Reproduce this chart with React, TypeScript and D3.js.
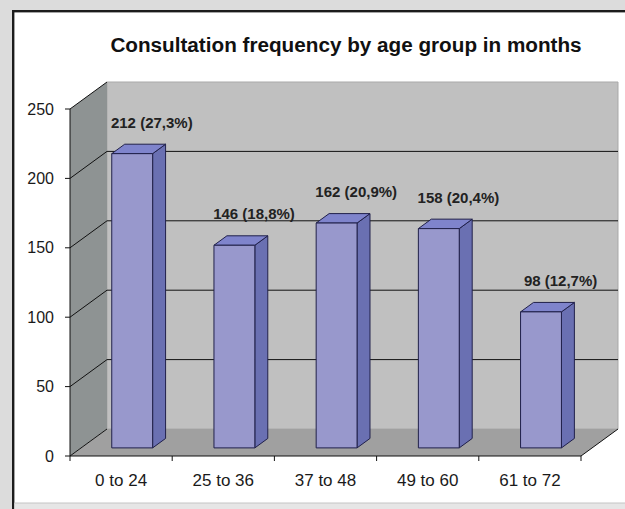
import React from "react";
import * as d3 from "d3";

const categories = ["0 to 24", "25 to 36", "37 to 48", "49 to 60", "61 to 72"];
const counts = [212, 146, 162, 158, 98];
const percents = ["27,3%", "18,8%", "20,9%", "20,4%", "12,7%"];
const yTicks = [0, 50, 100, 150, 200, 250];
const title = "Consultation frequency by age group in months";

const W = 625;
const H = 509;
const DX = 37;
const DY = -27;
const FONT = "'Liberation Sans', Arial, Helvetica, sans-serif";

export default function App() {
  const x = d3.scaleBand<string>().domain(categories).range([70, 581]).paddingInner(0).paddingOuter(0);
  const y = d3.scaleLinear().domain([0, 250]).range([456, 109]);
  const bw = x.bandwidth();
  const d0 = 0.3;
  const d1 = 0.65;
  const pt = (px: number, v: number, d: number) => [px + d * DX, y(v) + d * DY];
  const poly = (pts: number[][]) => pts.map((p) => p.join(",")).join(" ");

  const x0 = x.range()[0];
  const x1 = x.range()[1];
  const vMax = y.domain()[1];

  const backWall = poly([pt(x0, 0, 1), pt(x1, 0, 1), pt(x1, vMax, 1), pt(x0, vMax, 1)]);
  const sideWall = poly([pt(x0, 0, 0), pt(x0, 0, 1), pt(x0, vMax, 1), pt(x0, vMax, 0)]);
  const floor = poly([pt(x0, 0, 0), pt(x1, 0, 0), pt(x1, 0, 1), pt(x0, 0, 1)]);

  return (
    <svg width={W} height={H} style={{ position: "absolute", left: 0, top: 0 }} fontFamily={FONT}>
      <rect x={0} y={0} width={W} height={H} fill="#dcdcdc" />
      <rect x={13.2} y={11.2} width={640} height={520} fill="#ffffff" stroke="#1c1c1c" strokeWidth={2.4} />
      <rect x={14.4} y={503} width={620} height={10} fill="#e6e6e6" />
      <line x1={14.4} x2={625} y1={503} y2={503} stroke="#c4c4c4" strokeWidth={1} />

      <text x={346} y={52} textAnchor="middle" fontWeight="bold" fontSize={20.7} fill="#111">
        {title}
      </text>

      {/* walls */}
      <polygon points={backWall} fill="#c0c0c0" stroke="#a9a9a9" strokeWidth={1} />
      <polygon points={sideWall} fill="#8e9393" />
      <polygon points={floor} fill="#a0a0a0" />

      {/* gridlines */}
      {yTicks.map((t) => {
        const a = pt(x0, t, 0);
        const b = pt(x0, t, 1);
        const c = pt(x1, t, 1);
        return (
          <g key={"g" + t}>
            <line x1={a[0]} y1={a[1]} x2={b[0]} y2={b[1]} stroke="#111" strokeWidth={1} />
            {t > 0 && t < vMax && (
              <line x1={b[0]} y1={b[1]} x2={c[0]} y2={c[1]} stroke="#111" strokeWidth={1} />
            )}
          </g>
        );
      })}

      {/* floor right edge */}
      {(() => {
        const a = pt(x1, 0, 0);
        const b = pt(x1, 0, 1);
        return <line x1={a[0]} y1={a[1]} x2={b[0]} y2={b[1]} stroke="#111" strokeWidth={1} />;
      })()}

      {/* axes */}
      <line x1={x0} x2={x0} y1={y(0)} y2={y(vMax)} stroke="#111" strokeWidth={1} />
      <line x1={x0} x2={x1} y1={y(0)} y2={y(0)} stroke="#111" strokeWidth={1} />
      {yTicks.map((t) => (
        <g key={"yt" + t}>
          <line x1={x0 - 5} x2={x0} y1={y(t)} y2={y(t)} stroke="#111" strokeWidth={1} />
          <text x={54} y={y(t) + 5.5} textAnchor="end" fontSize={16} fill="#1a1a1a">
            {t}
          </text>
        </g>
      ))}
      {categories.map((c, i) => (
        <line
          key={"xt" + i}
          x1={(x(c) as number) + bw}
          x2={(x(c) as number) + bw}
          y1={y(0)}
          y2={y(0) + 5}
          stroke="#111"
          strokeWidth={1}
        />
      ))}
      <line x1={x0} x2={x0} y1={y(0)} y2={y(0) + 5} stroke="#111" strokeWidth={1} />
      {categories.map((c) => (
        <text
          key={"xl" + c}
          x={(x(c) as number) + bw / 2}
          y={486}
          textAnchor="middle"
          fontSize={17}
          fill="#1a1a1a"
        >
          {c}
        </text>
      ))}

      {/* bars */}
      {categories.map((c, i) => {
        const v = counts[i];
        const l = (x(c) as number) + bw * 0.3;
        const r = (x(c) as number) + bw * 0.7;
        const fbl = pt(l, 0, d0);
        const fbr = pt(r, 0, d0);
        const ftl = pt(l, v, d0);
        const ftr = pt(r, v, d0);
        const bbr = pt(r, 0, d1);
        const btl = pt(l, v, d1);
        const btr = pt(r, v, d1);
        return (
          <g key={"bar" + c} stroke="#20204a" strokeWidth={1} strokeLinejoin="round">
            <polygon points={poly([fbr, bbr, btr, ftr])} fill="#6a70b2" />
            <polygon points={poly([ftl, ftr, btr, btl])} fill="#7f84cc" />
            <polygon points={poly([fbl, fbr, ftr, ftl])} fill="#9898cc" />
          </g>
        );
      })}

      {/* value labels */}
      {categories.map((c, i) => (
        <text
          key={"vl" + c}
          x={(x(c) as number) + bw / 2 + 0.83 * DX}
          y={y(counts[i]) - 34}
          textAnchor="middle"
          fontSize={15}
          fontWeight="bold"
          fill="#222"
        >
          {`${counts[i]} (${percents[i]})`}
        </text>
      ))}
    </svg>
  );
}
